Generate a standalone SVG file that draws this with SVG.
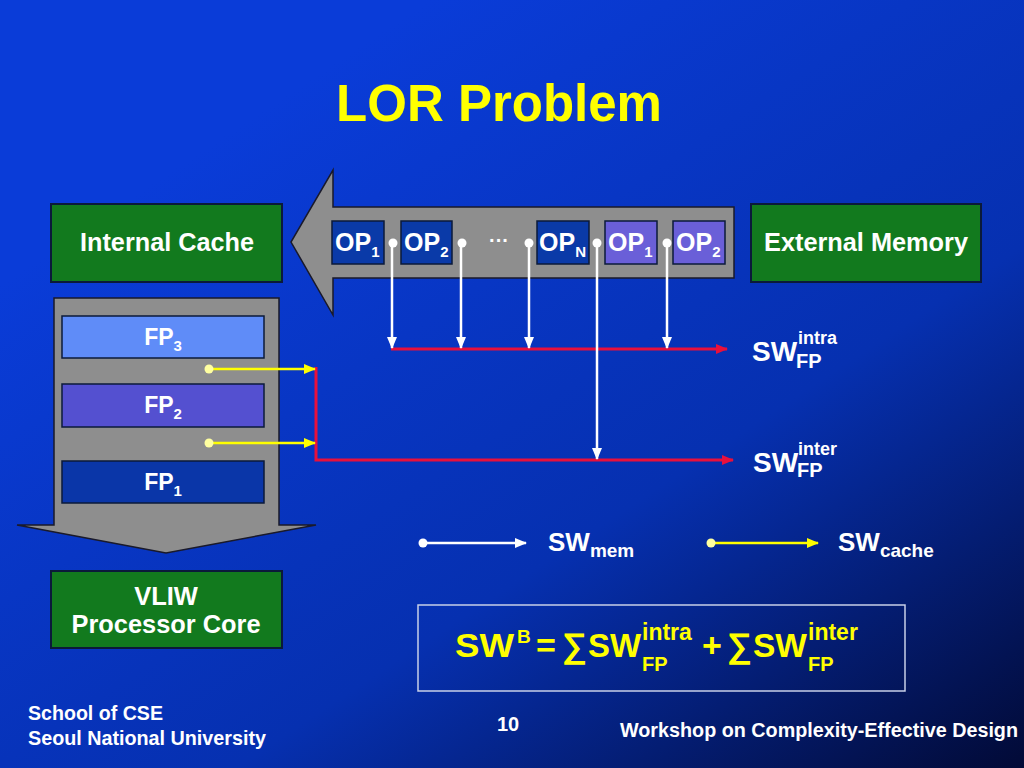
<svg xmlns="http://www.w3.org/2000/svg" width="1024" height="768" viewBox="0 0 1024 768">
<defs>
<linearGradient id="bg" x1="0.25" y1="0.15" x2="1" y2="1">
<stop offset="0" stop-color="#0a3cd8"/>
<stop offset="0.55" stop-color="#0630b0"/>
<stop offset="1" stop-color="#020a36"/>
</linearGradient>
<marker id="aw" markerUnits="userSpaceOnUse" markerWidth="12" markerHeight="10" refX="11" refY="5" orient="auto"><path d="M0,0 L12,5 L0,10 z" fill="#ffffff"/></marker>
<marker id="ar" markerUnits="userSpaceOnUse" markerWidth="12" markerHeight="10" refX="11" refY="5" orient="auto"><path d="M0,0 L12,5 L0,10 z" fill="#e8103c"/></marker>
<marker id="ay" markerUnits="userSpaceOnUse" markerWidth="12" markerHeight="10" refX="11" refY="5" orient="auto"><path d="M0,0 L12,5 L0,10 z" fill="#ffff00"/></marker>
<style>
text{font-family:"Liberation Sans",Arial,sans-serif;font-weight:bold;}
.w{fill:#ffffff;}
.y{fill:#ffff00;}
.green{fill:#127a1e;stroke:#0b1a3a;stroke-width:2;}
.gray{fill:#8e8e8e;stroke:#1a1a2a;stroke-width:1.5;}
.opd{fill:#0a3aa8;stroke:#0b1a3a;stroke-width:1.5;}
.opl{fill:#6a5fd8;stroke:#0b1a3a;stroke-width:1.5;}
.wl{stroke:#ffffff;stroke-width:2.5;fill:none;}
.rl{stroke:#e8103c;stroke-width:3;fill:none;}
.yl{stroke:#ffff00;stroke-width:2.5;fill:none;}
.op{font-size:25px;}
.fp{font-size:23px;}
.sub{font-size:15px;}
.lbl{font-size:25.5px;}
.ft{font-size:20px;}
</style>
</defs>
<rect width="1024" height="768" fill="url(#bg)"/>
<text x="499" y="121" text-anchor="middle" font-size="51" class="y">LOR Problem</text>

<g id="op-stream">
<path class="gray" d="M734,207 L333,207 L333,170 L291,242 L333,315 L333,278 L734,278 Z"/>
</g>
<g id="fp-stack">
<path class="gray" d="M54,298 L279,298 L279,525 L316,525 L166,553 L17,525 L54,525 Z"/>
</g>

<g id="internal-cache"><rect class="green" x="51" y="204" width="231" height="78"/><text x="167" y="251" text-anchor="middle" class="w lbl" textLength="174" lengthAdjust="spacingAndGlyphs">Internal Cache</text></g>
<g id="external-memory"><rect class="green" x="751" y="204" width="230" height="78"/><text x="866" y="251" text-anchor="middle" class="w lbl" textLength="204" lengthAdjust="spacingAndGlyphs">External Memory</text></g>
<g id="vliw"><rect class="green" x="51" y="571" width="231" height="77"/><text x="166" y="605" text-anchor="middle" class="w lbl">VLIW</text><text x="166" y="633" text-anchor="middle" class="w lbl" textLength="189" lengthAdjust="spacingAndGlyphs">Processor Core</text></g>

<g id="op1a"><rect class="opd" x="332" y="221" width="52" height="43"/><text x="335" y="251" class="w op">OP<tspan class="sub" dy="6">1</tspan></text></g>
<g id="op2a"><rect class="opd" x="401" y="221" width="51" height="43"/><text x="404" y="251" class="w op">OP<tspan class="sub" dy="6">2</tspan></text></g>
<g id="ellipsis"><text x="499" y="247" text-anchor="middle" font-size="20" class="w">···</text></g>
<g id="opn"><rect class="opd" x="537" y="221" width="52" height="43"/><text x="539" y="251" class="w op">OP<tspan class="sub" dy="6">N</tspan></text></g>
<g id="op1b"><rect class="opl" x="605" y="221" width="52" height="43"/><text x="608" y="251" class="w op">OP<tspan class="sub" dy="6">1</tspan></text></g>
<g id="op2b"><rect class="opl" x="673" y="221" width="52" height="43"/><text x="676" y="251" class="w op">OP<tspan class="sub" dy="6">2</tspan></text></g>

<g id="fp3"><rect x="62" y="316" width="202" height="42" fill="#5f8cf8" stroke="#0b1a3a" stroke-width="1.5"/><text x="163" y="345" text-anchor="middle" class="w fp">FP<tspan class="sub" dy="6">3</tspan></text></g>
<g id="fp2"><rect x="62" y="384" width="202" height="43" fill="#5450d0" stroke="#0b1a3a" stroke-width="1.5"/><text x="163" y="413" text-anchor="middle" class="w fp">FP<tspan class="sub" dy="6">2</tspan></text></g>
<g id="fp1"><rect x="62" y="461" width="202" height="42" fill="#0a36a8" stroke="#0b1a3a" stroke-width="1.5"/><text x="163" y="490" text-anchor="middle" class="w fp">FP<tspan class="sub" dy="6">1</tspan></text></g>

<g id="connectors">
<line class="rl" x1="391" y1="349" x2="727" y2="349" marker-end="url(#ar)"/>
<path class="rl" d="M316,367 V460 H733" marker-end="url(#ar)"/>
<line class="wl" x1="392" y1="243" x2="392" y2="348" marker-end="url(#aw)"/>
<line class="wl" x1="461" y1="243" x2="461" y2="348" marker-end="url(#aw)"/>
<line class="wl" x1="529" y1="243" x2="529" y2="348" marker-end="url(#aw)"/>
<line class="wl" x1="597" y1="243" x2="597" y2="459" marker-end="url(#aw)"/>
<line class="wl" x1="667" y1="243" x2="667" y2="348" marker-end="url(#aw)"/>
<circle cx="393" cy="243" r="4.5" fill="#ffffff"/>
<circle cx="462" cy="243" r="4.5" fill="#ffffff"/>
<circle cx="529" cy="243" r="4.5" fill="#ffffff"/>
<circle cx="597" cy="243" r="4.5" fill="#ffffff"/>
<circle cx="667" cy="243" r="4.5" fill="#ffffff"/>
<line class="yl" x1="209" y1="369" x2="315" y2="369" marker-end="url(#ay)"/>
<line class="yl" x1="209" y1="443" x2="315" y2="443" marker-end="url(#ay)"/>
<circle cx="209" cy="369" r="4.5" fill="#ffffa0"/>
<circle cx="209" cy="443" r="4.5" fill="#ffffa0"/>
<line class="wl" x1="423" y1="543" x2="526" y2="543" marker-end="url(#aw)"/>
<circle cx="423" cy="543" r="4.5" fill="#ffffff"/>
<line class="yl" x1="711" y1="543" x2="818" y2="543" marker-end="url(#ay)"/>
<circle cx="711" cy="543" r="4.5" fill="#ffffa0"/>
</g>

<g id="sw-intra"><text x="752" y="361" font-size="28" class="w">SW</text><text x="798" y="344" font-size="18" class="w">intra</text><text x="796" y="368" font-size="20" class="w">FP</text></g>
<g id="sw-inter"><text x="753" y="472" font-size="28" class="w">SW</text><text x="798" y="455" font-size="18" class="w">inter</text><text x="797" y="477" font-size="20" class="w">FP</text></g>
<g id="sw-mem"><text x="548" y="551" font-size="26" class="w">SW<tspan font-size="19" dy="6">mem</tspan></text></g>
<g id="sw-cache"><text x="838" y="551" font-size="26" class="w">SW<tspan font-size="19" dy="6">cache</tspan></text></g>

<g id="formula">
<rect x="418" y="605" width="487" height="86" fill="none" stroke="#c8d0e8" stroke-width="1.5"/>
<text x="455" y="657" font-size="34" class="y" textLength="59" lengthAdjust="spacingAndGlyphs">SW</text>
<text x="517" y="643" font-size="19" class="y">B</text>
<text x="536" y="657" font-size="34" class="y">=</text>
<text x="562" y="657" font-size="34" class="y" textLength="25" lengthAdjust="spacingAndGlyphs">∑</text>
<text x="588" y="657" font-size="34" class="y" textLength="53" lengthAdjust="spacingAndGlyphs">SW</text>
<text x="642" y="640" font-size="23" class="y">intra</text>
<text x="642" y="671" font-size="20" class="y">FP</text>
<text x="702" y="657" font-size="34" class="y">+</text>
<text x="727" y="657" font-size="34" class="y" textLength="25" lengthAdjust="spacingAndGlyphs">∑</text>
<text x="753" y="657" font-size="34" class="y" textLength="54" lengthAdjust="spacingAndGlyphs">SW</text>
<text x="808" y="640" font-size="23" class="y">inter</text>
<text x="808" y="671" font-size="20" class="y">FP</text>
</g>

<g id="footer">
<text x="28" y="720" class="w ft" textLength="135" lengthAdjust="spacingAndGlyphs">School of CSE</text>
<text x="28" y="745" class="w ft" textLength="238" lengthAdjust="spacingAndGlyphs">Seoul National University</text>
<text x="508" y="731" text-anchor="middle" class="w ft">10</text>
<text x="620" y="737" class="w ft" textLength="398" lengthAdjust="spacingAndGlyphs">Workshop on Complexity-Effective Design</text>
</g>
</svg>
